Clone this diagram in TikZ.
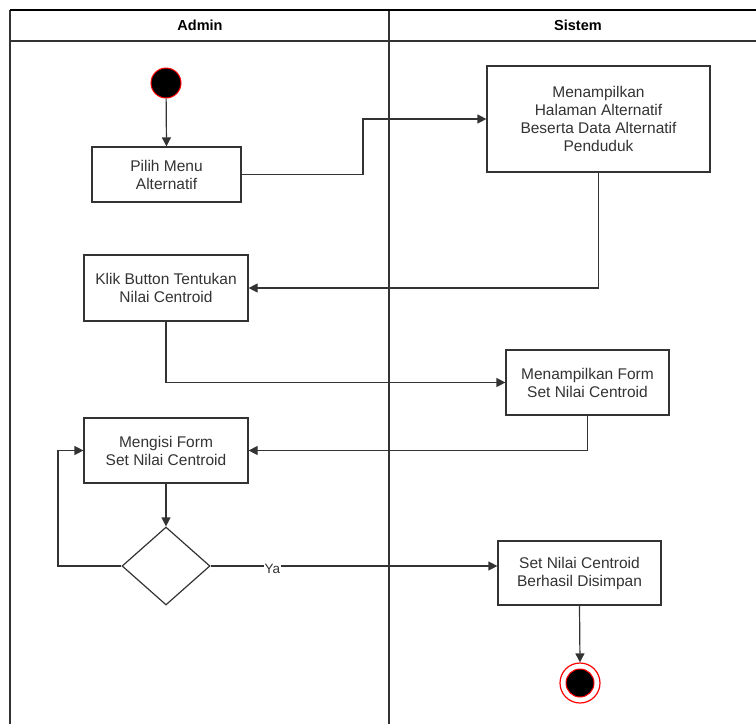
\documentclass[tikz,border=0pt]{standalone}
\usepackage{fontspec}
\setmainfont{Liberation Sans}
\usetikzlibrary{shapes.geometric,arrows.meta}
\definecolor{ln}{HTML}{333333}
\definecolor{tx}{HTML}{333333}
\tikzset{
  act/.style={draw=ln,line width=1.2pt,fill=white,rectangle,align=center,inner sep=0pt,
    font=\fontsize{15.5}{18}\selectfont,text=tx},
  conn/.style={draw=ln,line width=1.2pt,-{Triangle[width=9pt,length=9pt]}},
  lane/.style={draw=ln,line width=1.3pt},
  hdr/.style={font=\bfseries\fontsize{14.5}{16}\selectfont,text=black}
}
\begin{document}
\begin{tikzpicture}[x=1pt,y=-1pt]
\useasboundingbox (0,0) rectangle (756,724);
% swimlanes
\draw[lane] (10,41) -- (756,41);
\draw[lane] (10,10) -- (10,724);
\draw[lane] (389,10) -- (389,724);
\draw[line width=1.6pt,black] (10,10) -- (756,10);
\node[hdr] (ha) at (200,25.5) {Admin};
\node[hdr] (hs) at (578,25.5) {Sistem};
% start
\node[circle,draw=red,fill=black,line width=1pt,minimum size=30pt,inner sep=0pt] (st) at (166,83) {};
% actions
\node[act,minimum width=149pt,minimum height=55pt] (p) at (166.5,174.5) {Pilih Menu\\Alternatif};
\node[act,minimum width=223pt,minimum height=106pt] (h) at (598.5,119) {Menampilkan\\Halaman Alternatif\\Beserta Data Alternatif\\Penduduk};
\node[act,minimum width=164pt,minimum height=66pt] (k) at (166,288) {Klik Button Tentukan\\Nilai Centroid};
\node[act,minimum width=163pt,minimum height=65pt] (f) at (587.5,382.5) {Menampilkan Form\\Set Nilai Centroid};
\node[act,minimum width=164pt,minimum height=65pt] (m) at (166,450.5) {Mengisi Form\\Set Nilai Centroid};
\node[diamond,draw=ln,line width=1.2pt,fill=white,minimum width=88pt,minimum height=78pt,inner sep=0pt,aspect=1.13] (d) at (166,566) {};
\node[act,minimum width=163pt,minimum height=64pt] (s) at (579.5,573) {Set Nilai Centroid\\Berhasil Disimpan};
% end
\node[circle,draw=red,fill=white,line width=1.2pt,minimum size=40pt,inner sep=0pt] (en) at (580,683) {};
\node[circle,draw=red,fill=black,line width=1pt,minimum size=28pt,inner sep=0pt] (en2) at (580,683) {};
% connectors
\coordinate (j1) at (363,0);
\coordinate (j2) at (58,0);
\draw[conn] (st) -- (p.north);
\draw[conn] (p.east) -- (p.east -| j1) |- (h.west);
\draw[conn] (h.south) |- (k.east);
\draw[conn] (k.south) |- (f.west);
\draw[conn] (f.south) |- (m.east);
\draw[conn] (m.south) -- (d.north);
\draw[conn] (d.west) -- (d.west -| j2) |- (m.west);
\draw[conn] (d.east) -- node[pos=0.215,fill=white,inner sep=1pt,yshift=-3pt,text=tx,font=\fontsize{13.5}{15}\selectfont] (ya) {Ya} (d.east -| s.west);
\draw[conn] (s.south) -- (en.north);
\end{tikzpicture}
\end{document}
